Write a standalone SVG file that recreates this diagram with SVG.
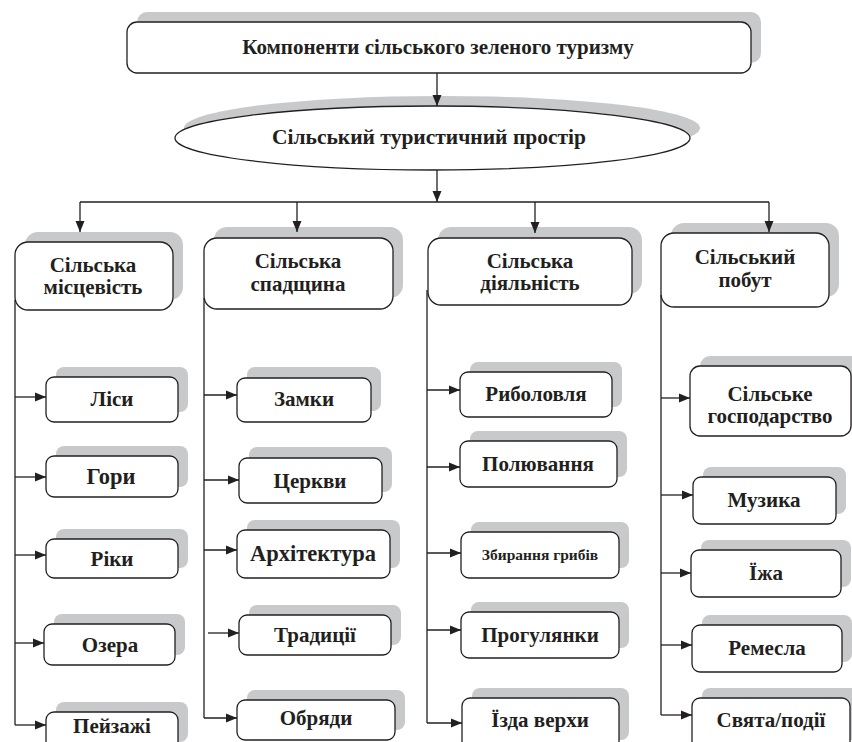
<svg xmlns="http://www.w3.org/2000/svg" width="852" height="742" viewBox="0 0 852 742">
<defs>
<style>
.sh{fill:#c8c9cb}
.bx{fill:#fff;stroke:#231f20;stroke-width:1.3}
.t{font-family:"Liberation Serif","Times New Roman",serif;font-weight:bold;fill:#231f20;text-anchor:middle}
.top{font-size:21px}
.el{font-size:21.5px}
.cat{font-size:21px}
.it{font-size:21px}
.big{font-size:22.5px}
.sm{font-size:15.5px}
.ln{stroke:#231f20;stroke-width:1.3;fill:none}
.ad{stroke:#231f20;stroke-width:1.3;fill:none;marker-end:url(#ahD)}
.arr{stroke:#231f20;stroke-width:1.3;fill:none;marker-end:url(#ahR)}
</style>
<marker id="ahR" markerUnits="userSpaceOnUse" markerWidth="12" markerHeight="10" refX="11" refY="5" overflow="visible">
<path d="M0,0.5 L11,5 L0,9.5 z" fill="#231f20"/>
</marker>
<marker id="ahD" markerUnits="userSpaceOnUse" markerWidth="10" markerHeight="12" refX="5" refY="11" overflow="visible">
<path d="M0.5,0 L5,11 L9.5,0 z" fill="#231f20"/>
</marker>
</defs>
<rect width="852" height="742" fill="#fff"/>

<g id="root">
<rect class="sh" x="137" y="12" width="624" height="51" rx="10"/>
<rect class="bx" x="127" y="22" width="624" height="51" rx="10"/>
<text class="t top" x="438" y="54">Компоненти сільського зеленого туризму</text>
</g>

<g id="space">
<ellipse class="sh" cx="442" cy="128" rx="258" ry="32"/>
<ellipse class="bx" cx="432.5" cy="138" rx="257.5" ry="32"/>
<text class="t el" x="429" y="144">Сільський туристичний простір</text>
</g>

<g id="cat1">
<rect class="sh" x="25" y="232" width="158" height="68" rx="13"/>
<rect class="bx" x="15" y="242" width="158" height="68" rx="13"/>
<text class="t cat" x="93" y="272">Сільська</text>
<text class="t cat" x="93" y="294">місцевість</text>
</g>
<g id="cat2">
<rect class="sh" x="214" y="227" width="189" height="71" rx="13"/>
<rect class="bx" x="204" y="238" width="189" height="71" rx="13"/>
<text class="t cat" x="298" y="268">Сільська</text>
<text class="t cat" x="298" y="291">спадщина</text>
</g>
<g id="cat3">
<rect class="sh" x="438" y="227" width="204" height="67" rx="13"/>
<rect class="bx" x="428" y="238" width="204" height="67" rx="13"/>
<text class="t cat" x="530" y="268">Сільська</text>
<text class="t cat" x="530" y="290">діяльність</text>
</g>
<g id="cat4">
<rect class="sh" x="671" y="223" width="168" height="74" rx="13"/>
<rect class="bx" x="661" y="233" width="168" height="74" rx="13"/>
<text class="t cat" x="745" y="264">Сільський</text>
<text class="t cat" x="745" y="287">побут</text>
</g>

<g id="lisy"><rect class="sh" x="56" y="367" width="132" height="45" rx="8"/><rect class="bx" x="46" y="377" width="132" height="45" rx="8"/><text class="t it" x="112" y="406">Ліси</text></g>
<g id="gory"><rect class="sh" x="56" y="446" width="132" height="41" rx="8"/><rect class="bx" x="46" y="456" width="132" height="41" rx="8"/><text class="t big" x="111" y="484">Гори</text></g>
<g id="riky"><rect class="sh" x="56" y="529" width="132" height="39" rx="8"/><rect class="bx" x="46" y="539" width="132" height="39" rx="8"/><text class="t it" x="112" y="566">Ріки</text></g>
<g id="ozera"><rect class="sh" x="54" y="614" width="131" height="41" rx="8"/><rect class="bx" x="44" y="624" width="131" height="41" rx="8"/><text class="t it" x="110" y="652">Озера</text></g>
<g id="peizazhi"><rect class="sh" x="56" y="702" width="132" height="40" rx="8"/><rect class="bx" x="46" y="712" width="132" height="40" rx="8"/><text class="t it" x="112" y="733">Пейзажі</text></g>

<g id="zamky"><rect class="sh" x="247" y="367" width="134" height="44" rx="8"/><rect class="bx" x="237" y="378" width="134" height="44" rx="8"/><text class="t it" x="304" y="406">Замки</text></g>
<g id="tserkvy"><rect class="sh" x="249" y="447" width="143" height="45" rx="8"/><rect class="bx" x="239" y="458" width="143" height="45" rx="8"/><text class="t it" x="310" y="488">Церкви</text></g>
<g id="arkh"><rect class="sh" x="247" y="520" width="153" height="48" rx="8"/><rect class="bx" x="237" y="530" width="153" height="48" rx="8"/><text class="t big" x="313" y="561">Архітектура</text></g>
<g id="tradytsii"><rect class="sh" x="249" y="605" width="152" height="40" rx="8"/><rect class="bx" x="239" y="615" width="152" height="40" rx="8"/><text class="t it" x="315" y="642">Традиції</text></g>
<g id="obriady"><rect class="sh" x="247" y="690" width="158" height="40" rx="8"/><rect class="bx" x="237" y="700" width="158" height="40" rx="8"/><text class="t it" x="316" y="725">Обряди</text></g>

<g id="rybolovlia"><rect class="sh" x="470" y="362" width="152" height="45" rx="8"/><rect class="bx" x="460" y="372" width="152" height="45" rx="8"/><text class="t it" x="536" y="401">Риболовля</text></g>
<g id="poliuvannia"><rect class="sh" x="470" y="431" width="157" height="46" rx="8"/><rect class="bx" x="460" y="441" width="157" height="46" rx="8"/><text class="t it" x="538" y="471">Полювання</text></g>
<g id="hryby"><rect class="sh" x="471" y="522" width="158" height="46" rx="8"/><rect class="bx" x="461" y="532" width="158" height="46" rx="8"/><text class="t sm" x="540" y="560">Збирання грибів</text></g>
<g id="prohulianky"><rect class="sh" x="471" y="602" width="158" height="46" rx="8"/><rect class="bx" x="461" y="612" width="158" height="46" rx="8"/><text class="t it" x="540" y="642">Прогулянки</text></g>
<g id="izda"><rect class="sh" x="472" y="688" width="157" height="52" rx="8"/><rect class="bx" x="462" y="698" width="157" height="52" rx="8"/><text class="t it" x="540" y="727">Їзда верхи</text></g>

<g id="hospodarstvo"><rect class="sh" x="700" y="356" width="161" height="70" rx="10"/><rect class="bx" x="690" y="366" width="161" height="70" rx="10"/><text class="t it" x="770" y="401">Сільське</text><text class="t it" x="770" y="423">господарство</text></g>
<g id="muzyka"><rect class="sh" x="703" y="467" width="143" height="47" rx="8"/><rect class="bx" x="693" y="477" width="143" height="47" rx="8"/><text class="t it" x="764" y="507">Музика</text></g>
<g id="izha"><rect class="sh" x="701" y="540" width="150" height="47" rx="8"/><rect class="bx" x="691" y="550" width="150" height="47" rx="8"/><text class="t it" x="766" y="580">Їжа</text></g>
<g id="remesla"><rect class="sh" x="702" y="615" width="150" height="47" rx="8"/><rect class="bx" x="692" y="625" width="150" height="47" rx="8"/><text class="t it" x="767" y="655">Ремесла</text></g>
<g id="sviata"><rect class="sh" x="702" y="688" width="158" height="52" rx="8"/><rect class="bx" x="692" y="698" width="158" height="52" rx="8"/><text class="t it" x="771" y="727">Свята/події</text></g>

<g id="connectors">
<line class="ad" x1="437" y1="73" x2="437" y2="106"/>
<line class="ad" x1="437" y1="170" x2="437" y2="202"/>
<line class="ln" x1="80" y1="202" x2="769" y2="202"/>
<line class="ad" x1="80" y1="202" x2="80" y2="232"/>
<line class="ad" x1="297" y1="202" x2="297" y2="232"/>
<line class="ad" x1="535" y1="202" x2="535" y2="233"/>
<line class="ad" x1="769" y1="202" x2="769" y2="232"/>
<line class="ln" x1="15" y1="300" x2="15" y2="725"/>
<line class="ln" x1="204" y1="298" x2="204" y2="718"/>
<line class="ln" x1="427" y1="290" x2="427" y2="723"/>
<line class="ln" x1="661" y1="295" x2="661" y2="715"/>
<line class="arr" x1="15" y1="397" x2="46" y2="397"/>
<line class="arr" x1="15" y1="477" x2="46" y2="477"/>
<line class="arr" x1="15" y1="555" x2="46" y2="555"/>
<line class="arr" x1="15" y1="643" x2="44" y2="643"/>
<line class="arr" x1="15" y1="725" x2="46" y2="725"/>
<line class="arr" x1="204" y1="395" x2="237" y2="395"/>
<line class="arr" x1="204" y1="480" x2="239" y2="480"/>
<line class="arr" x1="204" y1="550" x2="237" y2="550"/>
<line class="arr" x1="208" y1="633" x2="239" y2="633"/>
<line class="arr" x1="204" y1="718" x2="237" y2="718"/>
<line class="arr" x1="427" y1="390" x2="460" y2="390"/>
<line class="arr" x1="427" y1="467" x2="460" y2="467"/>
<line class="arr" x1="427" y1="553" x2="461" y2="553"/>
<line class="arr" x1="427" y1="630" x2="461" y2="630"/>
<line class="arr" x1="427" y1="723" x2="462" y2="723"/>
<line class="arr" x1="661" y1="398" x2="690" y2="398"/>
<line class="arr" x1="661" y1="495" x2="693" y2="495"/>
<line class="arr" x1="661" y1="573" x2="691" y2="573"/>
<line class="arr" x1="661" y1="645" x2="692" y2="645"/>
<line class="arr" x1="661" y1="715" x2="692" y2="715"/>
</g>
</svg>
